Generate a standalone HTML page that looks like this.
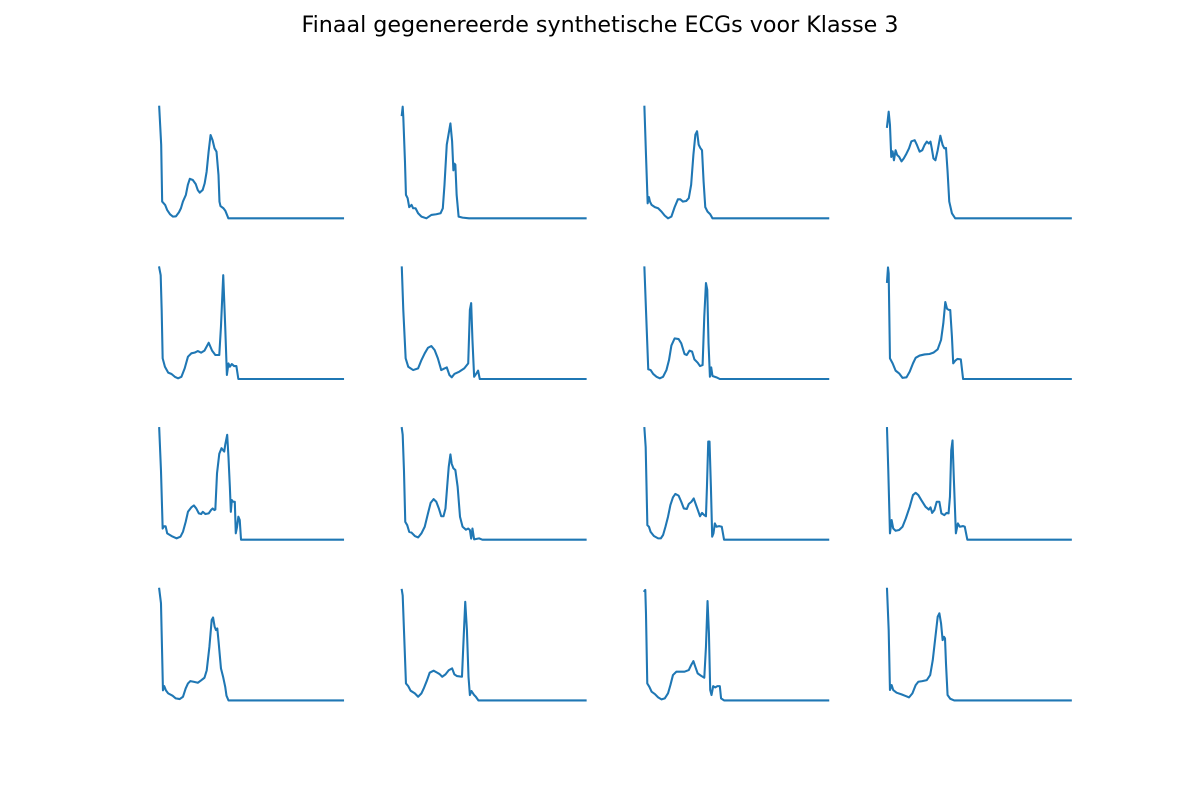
<!DOCTYPE html>
<html><head><meta charset="utf-8">
<style>
html,body{margin:0;padding:0;background:#fff;}
svg{display:block;}
</style></head>
<body>
<svg id="fig" width="1200" height="800" viewBox="0 0 1200 800" xmlns="http://www.w3.org/2000/svg">
<rect width="1200" height="800" fill="#fff"/>
<text x="600" y="32" text-anchor="middle" font-family="DejaVu Sans, Liberation Sans, sans-serif" font-size="22.2" fill="#000">Finaal gegenereerde synthetische ECGs voor Klasse 3</text>
<g id="panels"></g>
</svg>
<script>
const idx1=[0,2,3,6,8,11,14,17,20,22,24,27,29,31,34,37,39,41,44,46,48,50,52,54,56,58,60,61,62,65,67,70,186];
const val1=[1,0.66,0.15,0.12,0.075,0.036,0.015,0.018,0.054,0.09,0.15,0.21,0.30,0.354,0.343,0.306,0.254,0.23,0.254,0.313,0.418,0.597,0.746,0.70,0.627,0.597,0.388,0.149,0.11,0.09,0.066,0,0];
const idx2=[0,0.9,1.5,3.2,4.2,5.9,7.5,9.9,11.5,13.9,16.5,19.9,24.9,29.9,34.9,39.2,41.5,43.2,45.5,49.2,50.9,52.2,53.2,54.2,55.5,57.5,61.5,68,186];
const val2=[0.925,1,0.91,0.51,0.21,0.18,0.10,0.12,0.09,0.09,0.045,0.015,0,0.03,0.036,0.045,0.09,0.30,0.66,0.85,0.69,0.43,0.49,0.48,0.21,0.015,0.006,0,0];
const idx3=[0,1.6,3.3,4.6,5.6,7.3,10.6,13.9,17.3,20.6,23.9,27.3,30.6,33.9,36.3,38.9,42.3,44.9,47.3,49.6,51.6,53.3,54.9,56.6,58.3,59.9,61.6,63.9,66.6,68.9,186];
const val3=[1,0.57,0.134,0.19,0.15,0.12,0.10,0.09,0.06,0.024,0,0.015,0.10,0.17,0.17,0.15,0.155,0.18,0.30,0.57,0.75,0.78,0.66,0.63,0.61,0.33,0.10,0.06,0.036,0,0];
const idx4=[0,1.7,3,4.3,5.7,7,8.7,10.3,12.3,14.7,17,19.7,22.3,24.7,28,30.3,33,35.7,38,40.3,42.3,44,45.3,47,49,51.3,54,56.3,58,59.7,61.3,63,65.7,69,186];
const val4=[0.82,0.955,0.836,0.55,0.60,0.52,0.61,0.567,0.55,0.51,0.537,0.58,0.627,0.69,0.70,0.657,0.597,0.61,0.657,0.687,0.67,0.687,0.627,0.537,0.52,0.61,0.74,0.657,0.627,0.63,0.42,0.15,0.045,0,0];
const idx5=[0,1.5,2.5,3.5,5.8,9.1,12.5,15.8,19.1,22.5,25.8,29.1,32.5,35.8,39.1,42.5,45.8,50.1,53.5,56.8,60.8,62.5,64.8,66.8,68.5,70.1,71.5,73.5,75.8,78.1,80.1,186];
const val5=[1,0.93,0.62,0.185,0.11,0.057,0.045,0.02,0.006,0.02,0.095,0.2,0.23,0.236,0.25,0.236,0.254,0.325,0.254,0.215,0.215,0.47,0.93,0.47,0.036,0.14,0.11,0.134,0.116,0.116,0,0];
const idx6=[0,1.5,3.9,6.5,11.5,16.5,19.9,23.2,26.5,29.9,33.2,36.5,39.9,43.2,45.5,48.2,50.5,53.2,58.2,63.2,67.2,68.9,70.2,71.5,73.2,75.5,77.2,78.9,186];
const val6=[1,0.62,0.185,0.11,0.08,0.095,0.17,0.23,0.28,0.295,0.26,0.185,0.08,0.095,0.104,0.036,0.015,0.045,0.066,0.095,0.14,0.62,0.68,0.35,0.02,0.05,0.075,0,0];
const idx7=[0,1.6,3.9,6.3,8.9,12.3,15.6,18.9,22.3,24.9,27.3,30.6,34.6,37.3,40.6,42.9,45.6,48.3,50.6,53.9,56.3,58.9,60.6,62.3,63.6,64.9,66.3,67.6,68.9,72.9,76.3,186];
const val7=[1,0.62,0.087,0.08,0.045,0.02,0.006,0.02,0.08,0.17,0.30,0.364,0.358,0.32,0.224,0.215,0.254,0.245,0.176,0.146,0.116,0.125,0.56,0.86,0.80,0.32,0.02,0.104,0.027,0.015,0,0];
const idx8=[0,1,1.7,3,5.7,8.7,12.3,15.7,19.7,23,26.3,29,33,38,43,47,51.3,54.7,57,59,60.7,62.3,64,65.7,67,69,71.3,74.7,77,186];
const val8=[0.87,1,0.946,0.185,0.14,0.075,0.05,0.01,0.015,0.066,0.14,0.19,0.21,0.22,0.224,0.236,0.266,0.35,0.50,0.69,0.63,0.62,0.618,0.38,0.14,0.164,0.18,0.176,0,0];
const idx9=[0,1.8,3.5,4.8,6.5,8.1,12.5,17.5,21.5,24.1,26.8,29.1,32.5,35.1,37.5,40.1,42.5,44.1,46.8,50.1,52.5,54.1,55.8,56.8,58.5,60.8,63.1,64.8,65.8,66.8,68.8,70.1,71.5,72.5,73.5,74.8,76.5,77.5,78.8,80.1,81.5,82.8,186];
const val9=[1,0.62,0.10,0.12,0.12,0.057,0.033,0.012,0.027,0.072,0.16,0.25,0.29,0.307,0.28,0.236,0.23,0.25,0.23,0.236,0.266,0.28,0.266,0.27,0.594,0.77,0.82,0.80,0.79,0.85,0.94,0.74,0.475,0.25,0.355,0.34,0.34,0.057,0.116,0.206,0.176,0,0];
const idx10=[0,0.9,2.2,3.5,5.5,7.5,9.9,13.2,16.5,19.9,23.2,26.5,29.2,32.2,34.9,37.5,39.9,42.2,44.2,45.9,47.5,49.2,50.5,52.2,54.2,56.5,58.9,61.5,64.9,67.2,68.9,70.2,71.5,73.2,78.2,81.5,186];
const val10=[1,0.94,0.62,0.16,0.13,0.07,0.063,0.033,0.02,0.057,0.116,0.236,0.33,0.364,0.34,0.28,0.21,0.21,0.28,0.475,0.654,0.764,0.68,0.64,0.624,0.475,0.206,0.116,0.09,0.10,0.087,0.01,0.10,0.003,0.012,0,0];
const idx11=[0,1.3,3,4.6,6.3,9.6,13.9,16.6,18.9,21.3,23.9,26.3,28.9,31.3,34.6,37.3,39.9,42.9,44.9,47.6,49.9,52.3,53.9,56.3,58.3,60.6,62.3,63.3,64.6,65.9,67.3,68.6,69.9,71.3,72.9,75.6,78.3,80.6,186];
const val11=[1,0.83,0.13,0.116,0.07,0.033,0.012,0.012,0.042,0.116,0.206,0.31,0.38,0.41,0.395,0.34,0.28,0.275,0.32,0.34,0.37,0.31,0.27,0.21,0.24,0.22,0.21,0.475,0.88,0.88,0.475,0.027,0.057,0.146,0.116,0.122,0.116,0,0];
const idx12=[0,1.3,3,4.7,6.3,8.7,12.3,15.7,19,23,26.3,29,31.7,34.7,39,42.3,44,45.7,48,50.3,53,55,58,60.3,62.3,63.7,65,66.3,67.7,69.7,71.7,73.7,77,78.7,81.3,186];
const val12=[1,0.62,0.057,0.176,0.10,0.08,0.087,0.116,0.19,0.295,0.40,0.42,0.40,0.355,0.295,0.27,0.29,0.24,0.266,0.34,0.34,0.236,0.22,0.24,0.236,0.385,0.80,0.89,0.534,0.057,0.146,0.116,0.122,0.116,0,0];
const idx13=[0,1.8,2.8,3.8,5.1,6.8,9.1,13.5,16.8,20.8,24.1,26.8,29.1,31.5,34.8,39.1,42.5,45.8,48.1,50.8,53.1,54.5,56.1,57.5,58.8,60.1,62.5,64.8,66.8,68.1,70.1,186];
const val13=[1,0.87,0.48,0.09,0.128,0.09,0.063,0.042,0.018,0.012,0.033,0.107,0.152,0.173,0.167,0.158,0.18,0.203,0.27,0.48,0.72,0.743,0.66,0.63,0.645,0.525,0.287,0.206,0.122,0.042,0,0];
const idx14=[0,0.9,2.2,4.2,6.5,8.9,13.2,16.5,19.9,22.2,25.5,28.2,32.2,35.5,38.2,40.9,44.2,47.5,50.9,53.2,55.9,60.9,62.2,64.2,65.9,67.5,68.9,70.5,73.2,74.9,77.5,186];
const val14=[0.99,0.94,0.63,0.152,0.128,0.087,0.063,0.033,0.063,0.107,0.18,0.248,0.266,0.25,0.236,0.212,0.233,0.27,0.287,0.233,0.218,0.212,0.48,0.884,0.63,0.212,0.048,0.084,0.048,0.033,0,0];
const idx15=[0,0.9,1.6,2.9,5,7.3,10.6,13.9,17.3,20.6,23.9,26.3,28.9,32.3,35.6,40.6,44.9,47.3,49.6,51.6,53.9,57.3,60.6,62.3,63.9,65.3,66.6,67.9,69.6,71.6,73.9,76.3,77.6,80.6,186];
const val15=[0.98,0.99,0.78,0.152,0.122,0.078,0.057,0.027,0.009,0.018,0.063,0.137,0.227,0.257,0.257,0.257,0.272,0.316,0.352,0.30,0.242,0.221,0.203,0.48,0.89,0.60,0.093,0.048,0.128,0.116,0.128,0.128,0.018,0,0];
const idx16=[0,1.7,3,4.7,6.3,9.7,14.7,19,22.3,25.7,29,31.7,35.7,40.3,43.7,46.3,49,51.3,53,54.7,56.3,57.7,58.7,59.7,61.3,64,68,186];
const val16=[1,0.63,0.093,0.137,0.093,0.069,0.054,0.039,0.027,0.063,0.137,0.167,0.173,0.182,0.227,0.36,0.57,0.75,0.78,0.69,0.54,0.57,0.555,0.33,0.048,0.015,0,0];

const seriesIdx=[idx1,idx2,idx3,idx4,idx5,idx6,idx7,idx8,idx9,idx10,idx11,idx12,idx13,idx14,idx15,idx16];
const seriesVal=[val1,val2,val3,val4,val5,val6,val7,val8,val9,val10,val11,val12,val13,val14,val15,val16];

const NS='http://www.w3.org/2000/svg';
const panels=document.getElementById('panels');
const colStart=159.2, colPitch=242.6, dataW=183.8;
const rowTop=106.7, rowPitch=160.7, dataH=111.6;
const maxIdx=186;
function xScale(col,i){return colStart+col*colPitch+(i/maxIdx)*dataW;}
function yScale(row,v){return rowTop+row*rowPitch+(1-v)*dataH;}

for(let k=0;k<16;k++){
  const row=Math.floor(k/4), col=k%4;
  const g=document.createElementNS(NS,'g');
  
  
  const ix=seriesIdx[k], vv=seriesVal[k];
  let d='';
  for(let j=0;j<ix.length;j++){
    d+=(j?'L':'M')+xScale(col,ix[j]).toFixed(2)+' '+yScale(row,vv[j]).toFixed(2);
  }
  const p=document.createElementNS(NS,'path');
  p.setAttribute('d',d);
  p.setAttribute('fill','none');
  p.setAttribute('stroke','#1f77b4');
  p.setAttribute('stroke-width','2.08');
  p.setAttribute('stroke-linejoin','round');
  p.setAttribute('stroke-linecap','square');
  
  
  g.appendChild(p);
  panels.appendChild(g);
}
</script>
</body></html>
